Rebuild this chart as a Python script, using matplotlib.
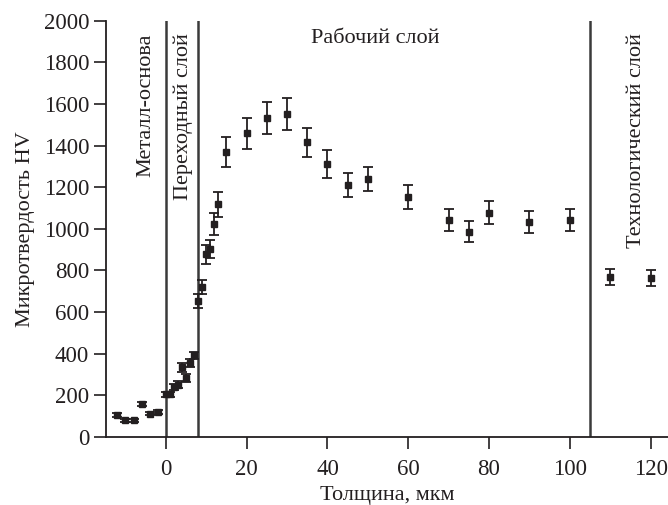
import matplotlib
matplotlib.use("Agg")
import matplotlib.pyplot as plt

plt.rcParams['font.family'] = ['Liberation Serif', 'DejaVu Serif']

# thickness (um), microhardness HV and its spread
depth = [-12, -10, -8, -6, -4, -2, 0, 1, 2, 3, 4, 5, 6, 7,
         8, 9, 10, 11, 12, 13, 15, 20, 25, 30, 35, 40, 45, 50,
         60, 70, 75, 80, 90, 100, 110, 120]
hv = [105, 80, 80, 158, 112, 120, 205, 205, 240, 252, 335, 283, 355, 392,
      653, 721, 877, 903, 1023, 1117, 1369, 1458, 1533, 1551, 1416, 1312, 1211, 1239,
      1151, 1042, 987, 1077, 1032, 1043, 767, 762]
hv_err = [8, 8, 8, 10, 8, 8, 12, 12, 15, 15, 22, 18, 20, 18,
          35, 35, 44, 45, 54, 59, 70, 76, 77, 78, 70, 67, 59, 58,
          58, 53, 52, 56, 53, 53, 39, 39]

# layer boundaries, um
borders = [0, 8, 105]

ink = '#231f20'
fs = 16

fig = plt.figure(figsize=(6.68, 5.05), dpi=100)
ax = fig.add_axes([0.1594, 0.1347, 0.8406, 0.8244])

for b in borders:
    ax.axvline(b, color='#3a3a3a', lw=1.8, zorder=1)

ax.errorbar(depth, hv, yerr=hv_err, fmt='s', color=ink, ms=5,
            elinewidth=1.3, capsize=3.5, capthick=1.3, zorder=3)

ax.set_xlim(-14.7, 124.3)
ax.set_ylim(0, 2000)
ax.set_xticks(range(0, 121, 20))
ax.set_yticks(range(0, 2001, 200))

for side in ['top', 'right']:
    ax.spines[side].set_visible(False)
for side in ['left', 'bottom']:
    ax.spines[side].set_linewidth(1.3)
    ax.spines[side].set_color(ink)
ax.tick_params(direction='out', length=8.5, width=1.2, colors=ink,
               labelsize=16.5)
ax.tick_params(axis='x', pad=7)
ax.tick_params(axis='y', pad=4)

ax.set_xlabel('Толщина, мкм', fontsize=fs, color=ink, labelpad=4.5)
ax.set_ylabel('Микротвердость HV', fontsize=fs, color=ink, labelpad=6)

ax.text(-5.0, 1940, 'Металл-основа', rotation=90, ha='center', va='top',
        fontsize=fs, color=ink)
ax.text(4.2, 1940, 'Переходный слой', rotation=90, ha='center', va='top',
        fontsize=fs, color=ink)
ax.text(51.8, 1915, 'Рабочий слой', ha='center', va='center',
        fontsize=fs, color=ink)
ax.text(116.4, 1940, 'Технологический слой', rotation=90, ha='center',
        va='top', fontsize=fs, color=ink)

fig.savefig('out.png', dpi=100)
